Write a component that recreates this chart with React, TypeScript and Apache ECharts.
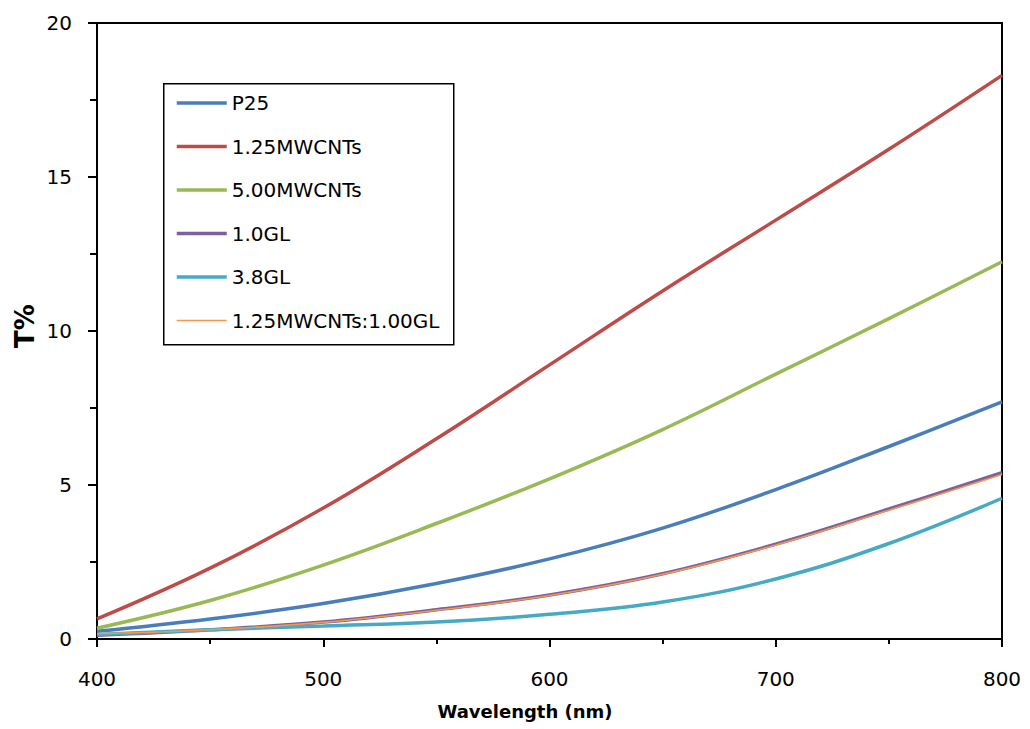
import React, { useEffect, useRef } from "react";
import * as echarts from "echarts";

const wavelengths = [400, 450, 500, 550, 600, 650, 700, 750, 800];

const seriesNames = ["P25", "1.25MWCNTs", "5.00MWCNTs", "1.0GL", "3.8GL", "1.25MWCNTs:1.00GL"];
const seriesColors = ["#4A7EBB", "#BE4B48", "#98B954", "#7D60A0", "#46AAC5", "#F79646"];
const seriesWidths = [3.5, 3.5, 3.5, 3.5, 3.5, 1.6];

const p25 = [0.25, 0.65, 1.15, 1.8, 2.6, 3.6, 4.85, 6.25, 7.7];
const mw125 = [0.65, 2.3, 4.25, 6.5, 8.9, 11.3, 13.6, 15.9, 18.3];
const mw500 = [0.35, 1.25, 2.4, 3.75, 5.2, 6.8, 8.6, 10.4, 12.25];
const gl10 = [0.12, 0.3, 0.55, 0.95, 1.43, 2.12, 3.08, 4.22, 5.4];
const gl38 = [0.15, 0.3, 0.42, 0.55, 0.8, 1.2, 1.95, 3.1, 4.57];
const mwgl = [0.17, 0.3, 0.54, 0.93, 1.41, 2.1, 3.05, 4.18, 5.34];

const allValues = [p25, mw125, mw500, gl10, gl38, mwgl];

const FONT = "DejaVu Sans";

export default function App() {
  const ref = useRef<HTMLDivElement>(null);
  useEffect(() => {
    if (!ref.current) return;
    const chart = echarts.init(ref.current, null, { renderer: "svg" });
    const series = allValues.map((vals, i) => ({
      name: seriesNames[i],
      type: "line",
      symbol: "none",
      smooth: 0.4,
      data: vals.map((v, j) => [wavelengths[j], v]),
      lineStyle: { color: seriesColors[i], width: seriesWidths[i] },
      itemStyle: { color: seriesColors[i] },
      z: i === 5 ? 3 : 2,
    }));
    chart.setOption({
      animation: false,
      backgroundColor: "#ffffff",
      grid: {
        left: 97,
        top: 23,
        right: 28,
        bottom: 90,
        show: true,
        borderColor: "#000",
        borderWidth: 2,
        backgroundColor: "transparent",
      },
      xAxis: {
        type: "value",
        min: 400,
        max: 800,
        interval: 100,
        axisLine: { show: true, lineStyle: { color: "#000", width: 2 } },
        axisTick: { show: true, length: 8, lineStyle: { color: "#000", width: 2 } },
        minorTick: { show: true, splitNumber: 2, length: 5, lineStyle: { color: "#000", width: 2 } },
        splitLine: { show: false },
        axisLabel: { color: "#000", fontSize: 20, fontFamily: FONT, margin: 30 },
      },
      yAxis: {
        type: "value",
        min: 0,
        max: 20,
        interval: 5,
        axisLine: { show: true, lineStyle: { color: "#000", width: 2 } },
        axisTick: { show: true, length: 9, lineStyle: { color: "#000", width: 2 } },
        minorTick: { show: true, splitNumber: 2, length: 7, lineStyle: { color: "#000", width: 2 } },
        splitLine: { show: false },
        axisLabel: { color: "#000", fontSize: 20, fontFamily: FONT, margin: 25 },
      },
      legend: {
        left: 175,
        top: 93,
        orient: "vertical",
        padding: 0,
        itemWidth: 50,
        itemHeight: 20,
        itemGap: 23.5,
        itemStyle: { opacity: 0, color: "transparent", borderWidth: 0 },
        textStyle: { color: "#000", fontSize: 20, fontFamily: FONT },
        data: seriesNames.map((n, i) => ({ name: n, lineStyle: { width: seriesWidths[i] } })),
      },
      graphic: [
        {
          type: "rect",
          left: 163,
          top: 83,
          shape: { width: 290, height: 261 },
          style: { fill: "transparent", stroke: "#000", lineWidth: 1.5 },
          silent: true,
        },
        {
          type: "text",
          x: 25,
          y: 326,
          rotation: Math.PI / 2,
          style: {
            text: "T%",
            font: `bold 26px '${FONT}'`,
            fill: "#000",
            align: "center",
            verticalAlign: "middle",
          },
        },
        {
          type: "text",
          x: 525,
          y: 711,
          style: {
            text: "Wavelength (nm)",
            font: `bold 18px '${FONT}'`,
            fill: "#000",
            align: "center",
            verticalAlign: "middle",
          },
        },
      ],
      series,
    });
    return () => chart.dispose();
  }, []);
  return (
    <div
      ref={ref}
      style={{ position: "fixed", left: 0, top: 0, width: 1030, height: 729 }}
    />
  );
}
